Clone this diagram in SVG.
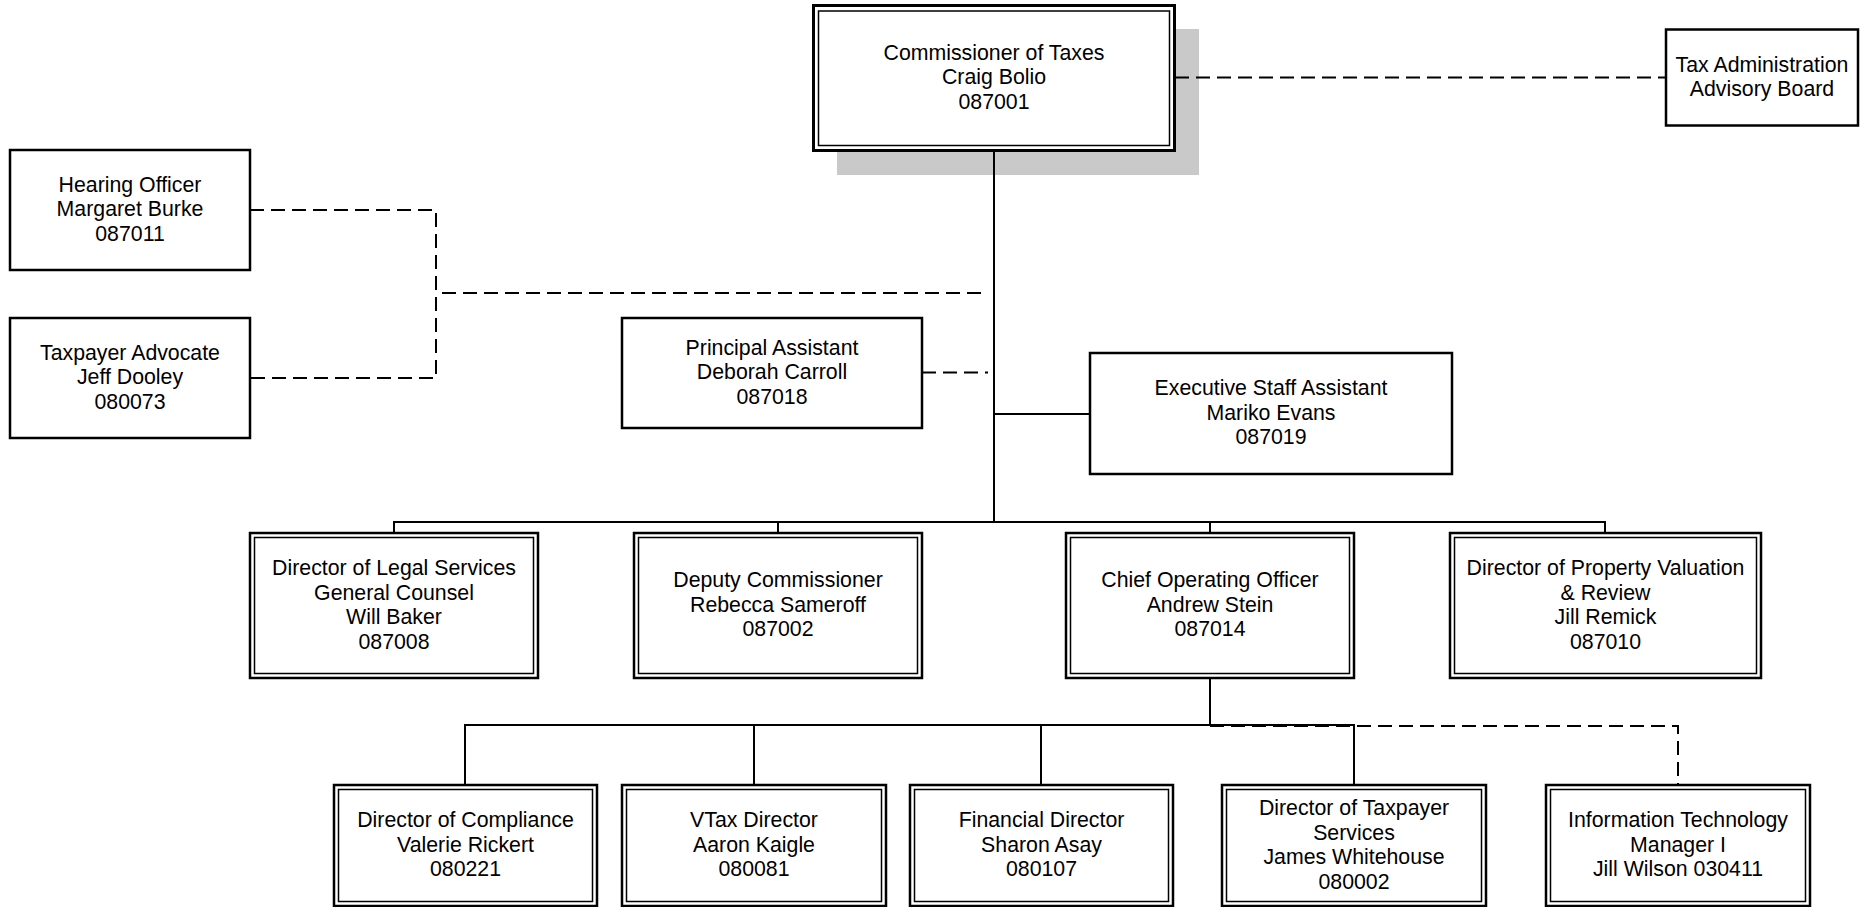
<svg xmlns="http://www.w3.org/2000/svg" width="1866" height="907" viewBox="0 0 1866 907">
<style>
.bg{fill:#fff}
.box{fill:#fff;stroke:#000;stroke-width:2.5}
.inner{fill:none;stroke:#000;stroke-width:1.5}
.t{font-family:"Liberation Sans",Arial,sans-serif;font-size:21.3px;text-anchor:middle;fill:#000}
.c{stroke:#000;stroke-width:2;fill:none}
.d{stroke:#000;stroke-width:2;fill:none;stroke-dasharray:14 7}
</style>
<rect class="bg" x="0" y="0" width="1866" height="907"/>
<rect id="shadow" x="837" y="29" width="362" height="146" fill="#c9c9c9"/>
<g id="connectors">
  <path class="c" d="M994 151 V522"/>
  <path class="c" d="M394 533 V522 H1605 V533"/>
  <path class="c" d="M778 522 V533"/>
  <path class="c" d="M1210 522 V533"/>
  <path class="c" d="M994 414 H1090"/>
  <path class="c" d="M1210 678 V725"/>
  <path class="c" d="M465 785 V725 H1354 V785"/>
  <path class="c" d="M754 725 V785"/>
  <path class="c" d="M1041 725 V785"/>
  <path class="d" d="M1210 726 H1678 V785"/>
  <path class="d" d="M1175 77.5 H1666"/>
  <path class="d" d="M250 210 H436 V378 H250"/>
  <path class="d" d="M442 293 H988"/>
  <path class="d" d="M922 372.5 H988"/>
</g>
<g id="commissioner">
  <rect x="813.5" y="5.5" width="361" height="145" fill="#fff" stroke="#000" stroke-width="3"/>
  <rect class="inner" x="818.5" y="11" width="351" height="134.5"/>
  <text class="t" x="994" y="59.5">Commissioner of Taxes</text>
  <text class="t" x="994" y="84">Craig Bolio</text>
  <text class="t" x="994" y="108.5">087001</text>
</g>
<g id="tax-admin-board">
  <rect class="box" x="1666" y="29.5" width="192" height="96"/>
  <text class="t" x="1762" y="71.5">Tax Administration</text>
  <text class="t" x="1762" y="96">Advisory Board</text>
</g>
<g id="hearing-officer">
  <rect class="box" x="10" y="150" width="240" height="120"/>
  <text class="t" x="130" y="191.5">Hearing Officer</text>
  <text class="t" x="130" y="216">Margaret Burke</text>
  <text class="t" x="130" y="240.5">087011</text>
</g>
<g id="taxpayer-advocate">
  <rect class="box" x="10" y="318" width="240" height="120"/>
  <text class="t" x="130" y="359.5">Taxpayer Advocate</text>
  <text class="t" x="130" y="384">Jeff Dooley</text>
  <text class="t" x="130" y="408.5">080073</text>
</g>
<g id="principal-assistant">
  <rect class="box" x="622" y="318" width="300" height="110"/>
  <text class="t" x="772" y="354.5">Principal Assistant</text>
  <text class="t" x="772" y="379">Deborah Carroll</text>
  <text class="t" x="772" y="403.5">087018</text>
</g>
<g id="executive-staff-assistant">
  <rect class="box" x="1090" y="353" width="362" height="121"/>
  <text class="t" x="1271" y="395">Executive Staff Assistant</text>
  <text class="t" x="1271" y="419.5">Mariko Evans</text>
  <text class="t" x="1271" y="444">087019</text>
</g>
<g id="legal-services">
  <rect class="box" x="250" y="533" width="288" height="145"/>
  <rect class="inner" x="254.5" y="537.5" width="279" height="136"/>
  <text class="t" x="394" y="575">Director of Legal Services</text>
  <text class="t" x="394" y="599.5">General Counsel</text>
  <text class="t" x="394" y="624">Will Baker</text>
  <text class="t" x="394" y="648.5">087008</text>
</g>
<g id="deputy-commissioner">
  <rect class="box" x="634" y="533" width="288" height="145"/>
  <rect class="inner" x="638.5" y="537.5" width="279" height="136"/>
  <text class="t" x="778" y="587">Deputy Commissioner</text>
  <text class="t" x="778" y="611.5">Rebecca Sameroff</text>
  <text class="t" x="778" y="636">087002</text>
</g>
<g id="chief-operating-officer">
  <rect class="box" x="1066" y="533" width="288" height="145"/>
  <rect class="inner" x="1070.5" y="537.5" width="279" height="136"/>
  <text class="t" x="1210" y="587">Chief Operating Officer</text>
  <text class="t" x="1210" y="611.5">Andrew Stein</text>
  <text class="t" x="1210" y="636">087014</text>
</g>
<g id="property-valuation">
  <rect class="box" x="1450" y="533" width="311" height="145"/>
  <rect class="inner" x="1454.5" y="537.5" width="302" height="136"/>
  <text class="t" x="1605.5" y="575">Director of Property Valuation</text>
  <text class="t" x="1605.5" y="599.5">&amp; Review</text>
  <text class="t" x="1605.5" y="624">Jill Remick</text>
  <text class="t" x="1605.5" y="648.5">087010</text>
</g>
<g id="compliance">
  <rect class="box" x="334" y="785" width="263" height="121"/>
  <rect class="inner" x="338.5" y="789.5" width="254" height="112"/>
  <text class="t" x="465.5" y="827">Director of Compliance</text>
  <text class="t" x="465.5" y="851.5">Valerie Rickert</text>
  <text class="t" x="465.5" y="876">080221</text>
</g>
<g id="vtax-director">
  <rect class="box" x="622" y="785" width="264" height="121"/>
  <rect class="inner" x="626.5" y="789.5" width="255" height="112"/>
  <text class="t" x="754" y="827">VTax Director</text>
  <text class="t" x="754" y="851.5">Aaron Kaigle</text>
  <text class="t" x="754" y="876">080081</text>
</g>
<g id="financial-director">
  <rect class="box" x="910" y="785" width="263" height="121"/>
  <rect class="inner" x="914.5" y="789.5" width="254" height="112"/>
  <text class="t" x="1041.5" y="827">Financial Director</text>
  <text class="t" x="1041.5" y="851.5">Sharon Asay</text>
  <text class="t" x="1041.5" y="876">080107</text>
</g>
<g id="taxpayer-services">
  <rect class="box" x="1222" y="785" width="264" height="121"/>
  <rect class="inner" x="1226.5" y="789.5" width="255" height="112"/>
  <text class="t" x="1354" y="815">Director of Taxpayer</text>
  <text class="t" x="1354" y="839.5">Services</text>
  <text class="t" x="1354" y="864">James Whitehouse</text>
  <text class="t" x="1354" y="888.5">080002</text>
</g>
<g id="information-technology">
  <rect class="box" x="1546" y="785" width="264" height="121"/>
  <rect class="inner" x="1550.5" y="789.5" width="255" height="112"/>
  <text class="t" x="1678" y="827">Information Technology</text>
  <text class="t" x="1678" y="851.5">Manager I</text>
  <text class="t" x="1678" y="876">Jill Wilson 030411</text>
</g>
</svg>
